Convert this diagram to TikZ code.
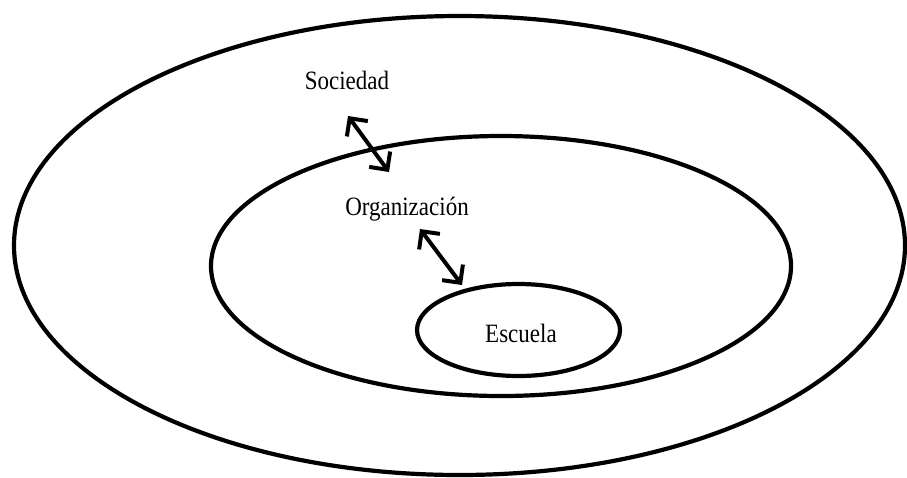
\documentclass[tikz,border=0pt]{standalone}
\usepackage{fontspec}
\setmainfont{Liberation Serif}
\usetikzlibrary{arrows.meta,shapes.geometric}
\tikzset{
    ring/.style={draw, ellipse, line width=4.2pt, inner sep=0pt},
    lbl/.style={font=\fontsize{23}{28}\selectfont, inner sep=1pt},
    link/.style={line width=4pt, {Straight Barb[length=13pt,width=26pt]}-{Straight Barb[length=13pt,width=26pt]}}
}
\begin{document}
\begin{tikzpicture}[x=1pt, y=-1pt]
    \useasboundingbox (0,0) rectangle (907,477);
    % Rings
    \node[ring, minimum width=891pt, minimum height=459pt] (outer) at (459.5,245.5) {};
    \node[ring, minimum width=580pt, minimum height=260pt] (middle) at (501,266) {};
    \node[ring, minimum width=203pt, minimum height=92pt] (inner) at (518.5,330) {};
    % Labels
    \node[lbl, yscale=1.15] (sociedad) at (347,80) {Sociedad};
    \node[lbl, yscale=1.15] (organizacion) at (407,209) {Organización};
    \node[lbl, yscale=1.15] (escuela) at (521,333) {Escuela};
    % Arrow ends
    \coordinate (s1) at (348,116);
    \coordinate (s2) at (389,172);
    \coordinate (o1) at (420,229);
    \coordinate (o2) at (462,285);
    % Arrows
    \draw[link] (s1) -- (s2);
    \draw[link] (o1) -- (o2);
\end{tikzpicture}
\end{document}
